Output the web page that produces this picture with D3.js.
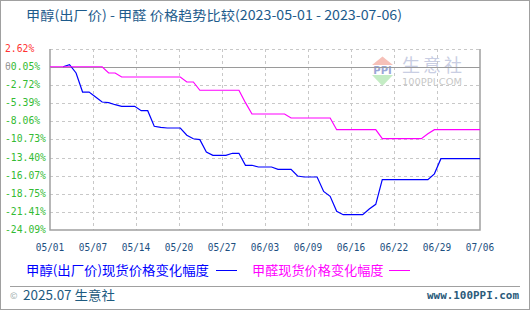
<!DOCTYPE html>
<html>
<head>
<meta charset="utf-8">
<script src="https://cdn.jsdelivr.net/npm/d3@7"></script>
<style>
  body { margin: 0; background: #fff; }
  svg { display: block; }
</style>
</head>
<body>
<svg id="chart"></svg>
<script>
// chart data
const startDate = "2023-05-01";
const endDate = "2023-07-06";
const xLabels = ["05/01", "05/07", "05/14", "05/20", "05/27", "06/03", "06/09", "06/16", "06/22", "06/29", "07/06"];
const yTicks = [2.62, -0.05, -2.72, -5.39, -8.06, -10.73, -13.40, -16.07, -18.75, -21.41, -24.09];

// 甲醇(出厂价), daily from 05-03
const methanolStart = "2023-05-03";
const methanolValues = [0, 0.3, -0.92, -3.73, -3.73, -4.46, -5.2, -5.3, -5.6,
  -5.84, -5.84, -5.84, -6.48, -6.48, -8.79, -8.95, -9.04, -9.04, -9.04,
  -10.1, -10.62, -10.76, -12.58, -13.07, -13.07, -13.07, -12.77, -12.77,
  -14.54, -14.54, -14.79, -14.79, -14.79, -15.13, -15.13, -15.13, -16.12,
  -16.27, -16.27, -16.27, -18.4, -19.12, -21.33, -21.83, -21.83, -21.83,
  -21.83, -21.0, -20.3, -16.67, -16.67, -16.67, -16.67, -16.67, -16.67,
  -16.67, -16.67, -15.8, -13.57, -13.57, -13.57, -13.57, -13.57, -13.57, -13.57];

// 甲醛, daily from 05-01
const formaldehydeStart = "2023-05-01";
const formaldehydeValues = [0, 0, 0, 0, 0, 0, 0, 0, 0, -0.92, -0.92,
  -1.51, -1.51, -1.51, -1.51, -1.51, -1.51, -1.51, -1.51, -1.51, -1.51,
  -2.25, -2.25, -3.47, -3.47, -3.47, -3.47, -3.47, -3.47, -3.47, -5.3,
  -6.97, -6.97, -6.97, -6.97, -6.97, -6.97, -7.56, -7.56, -7.56, -7.56,
  -7.56, -7.56, -7.56, -9.29, -9.29, -9.29, -9.29, -9.29, -9.29, -9.29,
  -10.62, -10.62, -10.62, -10.62, -10.62, -10.62, -10.62, -9.9,
  -9.29, -9.29, -9.29, -9.29, -9.29, -9.29, -9.29, -9.29];

const series = [
  { name: "甲醇(出厂价)现货价格变化幅度", start: methanolStart, values: methanolValues, color: "#0000ff" },
  { name: "甲醛现货价格变化幅度", start: formaldehydeStart, values: formaldehydeValues, color: "#ff00ff" }
];

const width = 530, height = 310;
const margin = { top: 49, right: 50, bottom: 80, left: 50 };
const mono = "'DejaVu Sans Mono', 'Liberation Mono', monospace";
const cjk = "'Noto Sans CJK SC', 'Noto Sans', sans-serif";

const parse = d3.timeParse("%Y-%m-%d");
const x = d3.scaleTime()
  .domain([parse(startDate), parse(endDate)])
  .range([margin.left, width - margin.right]);
const y = d3.scaleLinear()
  .domain([d3.min(yTicks), d3.max(yTicks)])
  .range([height - margin.bottom, margin.top]);

const svg = d3.select("#chart").attr("width", width).attr("height", height);

// outer frame
svg.append("rect")
  .attr("x", 0.5).attr("y", 0.5)
  .attr("width", width - 1).attr("height", height - 1)
  .attr("fill", "#fff").attr("stroke", "#a0a0a0");

// title
svg.append("text")
  .attr("x", 26).attr("y", 20)
  .attr("font-family", cjk).attr("font-size", 13)
  .attr("fill", "#1d5b8c")
  .attr("textLength", 376).attr("lengthAdjust", "spacingAndGlyphs")
  .text("甲醇(出厂价) - 甲醛 价格趋势比较(2023-05-01 - 2023-07-06)");

// watermark
const wm = svg.append("g");
wm.append("path").attr("d", "M372,65 L382.5,56.5 L393,65 Z").attr("fill", "#f6c0b8");
wm.append("path").attr("d", "M372,75 L393,75 L382.5,86 Z").attr("fill", "#c4ecc4");
wm.append("text").attr("x", 382.5).attr("y", 73.5).attr("text-anchor", "middle")
  .attr("font-family", "'DejaVu Sans', sans-serif").attr("font-size", 10).attr("font-weight", "bold")
  .attr("fill", "#9aa6d6").text("PPI");
wm.append("text").attr("x", 402).attr("y", 71.5)
  .attr("font-family", cjk).attr("font-size", 18)
  .attr("fill", "#c9cee3").attr("textLength", 60).attr("lengthAdjust", "spacing")
  .text("生意社");
wm.append("text").attr("x", 402).attr("y", 85)
  .attr("font-family", "'DejaVu Sans', sans-serif").attr("font-size", 9.5)
  .attr("fill", "#c8c8c8").attr("textLength", 60).attr("lengthAdjust", "spacingAndGlyphs")
  .text("100PPI.COM");

// grid
const xTicks = d3.range(xLabels.length).map(i =>
  d3.timeMillisecond.offset(x.domain()[0], i * (x.domain()[1] - x.domain()[0]) / (xLabels.length - 1)));

svg.append("g").selectAll("line")
  .data(yTicks.slice(0, -1))
  .join("line")
  .attr("x1", margin.left).attr("x2", width - margin.right)
  .attr("y1", d => Math.round(y(d)) + 0.5).attr("y2", d => Math.round(y(d)) + 0.5)
  .attr("stroke", "#c8c8c8").attr("stroke-dasharray", "3,3");

svg.append("g").selectAll("line")
  .data(xTicks.slice(1, -1))
  .join("line")
  .attr("x1", d => Math.round(x(d)) + 0.5).attr("x2", d => Math.round(x(d)) + 0.5)
  .attr("y1", margin.top).attr("y2", height - margin.bottom)
  .attr("stroke", "#c8c8c8").attr("stroke-dasharray", "3,3");

// zero line
svg.append("line")
  .attr("x1", margin.left).attr("x2", width - margin.right)
  .attr("y1", Math.round(y(0)) + 0.5).attr("y2", Math.round(y(0)) + 0.5)
  .attr("stroke", "#9a9a9a");

// plot frame (left, bottom, right)
svg.append("path")
  .attr("d", `M${margin.left},${margin.top} V${height - margin.bottom} H${width - margin.right} V${margin.top}`)
  .attr("fill", "none").attr("stroke", "#a0a0a0").attr("stroke-width", 1.5);

// y tick labels; the -0.05% one shows a gray zero struck over its minus sign
const yLabel = svg.append("g").selectAll("text")
  .data(yTicks)
  .join("text")
  .attr("x", 5).attr("y", d => y(d) + 3)
  .attr("font-family", mono).attr("font-size", 10.5)
  .attr("fill", (d, i) => i === 0 ? "#ff3333" : "#33bb33")
  .attr("textLength", d => (d.toFixed(2) + "%").length * 5.85)
  .attr("lengthAdjust", "spacingAndGlyphs");
yLabel.each(function (d) {
  const t = d3.select(this);
  const s = d.toFixed(2) + "%";
  if (d === -0.05) {
    t.append("tspan").attr("fill", "#999").text("θ");
    t.append("tspan").text(s.slice(1));
  } else {
    t.text(s);
  }
});

// x tick labels
svg.append("g").selectAll("text")
  .data(xTicks)
  .join("text")
  .attr("x", d => x(d)).attr("y", 251)
  .attr("text-anchor", "middle")
  .attr("font-family", mono).attr("font-size", 10.5)
  .attr("fill", "#1d4f80")
  .attr("textLength", 28.5).attr("lengthAdjust", "spacingAndGlyphs")
  .text((d, i) => xLabels[i]);

// lines
const line = d3.line()
  .x(d => x(d.date))
  .y(d => y(d.value));

series.forEach(s => {
  const pts = s.values.map((v, i) => ({ date: d3.timeDay.offset(parse(s.start), i), value: v }));
  svg.append("path")
    .datum(pts)
    .attr("d", line)
    .attr("fill", "none")
    .attr("stroke", s.color)
    .attr("stroke-width", 1.2);
});

// legend
const legend = [
  { x: 26, textLen: 183, lineX: [216, 237] },
  { x: 252, textLen: 131.5, lineX: [389, 410] }
];
legend.forEach((l, i) => {
  svg.append("text")
    .attr("x", l.x).attr("y", 275)
    .attr("font-family", cjk).attr("font-size", 13)
    .attr("fill", series[i].color)
    .attr("textLength", l.textLen).attr("lengthAdjust", "spacingAndGlyphs")
    .text(series[i].name);
  svg.append("line")
    .attr("x1", l.lineX[0]).attr("x2", l.lineX[1])
    .attr("y1", 270.5).attr("y2", 270.5)
    .attr("stroke", series[i].color);
});

// footer
svg.append("line")
  .attr("x1", 10).attr("x2", 520)
  .attr("y1", 286.5).attr("y2", 286.5)
  .attr("stroke", "#a0a0a0");
svg.append("text")
  .attr("x", 10).attr("y", 299)
  .attr("font-family", cjk).attr("font-size", 9)
  .attr("fill", "#9aa").text("©");
svg.append("text")
  .attr("x", 23).attr("y", 300)
  .attr("font-family", cjk).attr("font-size", 13)
  .attr("fill", "#1e5b80")
  .attr("textLength", 92).attr("lengthAdjust", "spacingAndGlyphs")
  .text("2025.07 生意社");
svg.append("text")
  .attr("x", 519).attr("y", 299)
  .attr("text-anchor", "end")
  .attr("font-family", mono).attr("font-size", 11).attr("font-weight", "bold")
  .attr("fill", "#2a5a7a")
  .attr("textLength", 92).attr("lengthAdjust", "spacingAndGlyphs")
  .text("www.100PPI.com");
</script>
</body>
</html>
